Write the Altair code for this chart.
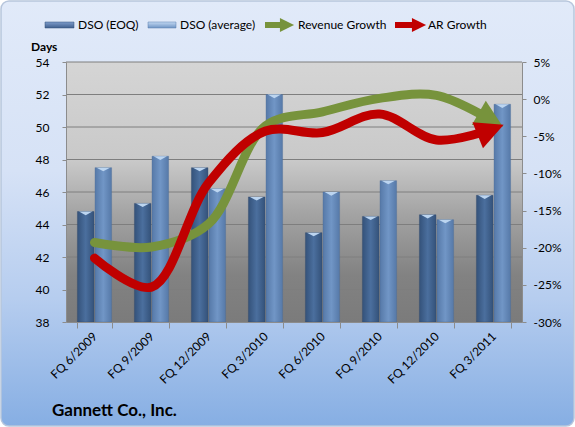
import altair as alt
import pandas as pd

# ---------------- data ----------------
quarters = ["FQ 6/2009", "FQ 9/2009", "FQ 12/2009", "FQ 3/2010",
            "FQ 6/2010", "FQ 9/2010", "FQ 12/2010", "FQ 3/2011"]
dso_eoq = [44.8, 45.3, 47.5, 45.7, 43.5, 44.5, 44.6, 45.8]
dso_avg = [47.5, 48.2, 46.2, 52.0, 46.0, 46.7, 44.3, 51.4]
revenue_growth = [-19.3, -19.9, -16.8, -3.6, -1.7, 0.1, 0.5, -3.0]
ar_growth = [-21.4, -25.3, -11.3, -4.3, -4.5, -2.0, -5.5, -4.0]

left_ticks = [38, 40, 42, 44, 46, 48, 50, 52, 54]
grid_days = [40, 42, 44, 46, 48, 50, 52, 54]
right_ticks = [-30, -25, -20, -15, -10, -5, 0, 5]
series_names = ["EOQ", "AVG"]
legend_labels = ["DSO (EOQ)", "DSO (average)", "Revenue Growth", "AR Growth"]
title_text = "Gannett Co., Inc."
days_label = "Days"

FONT = "Lato"
W, H = 456, 260

bars_df = pd.DataFrame({
    "quarter": quarters * 2,
    "series": ["EOQ"] * len(quarters) + ["AVG"] * len(quarters),
    "days": dso_eoq + dso_avg,
})
grid_df = pd.DataFrame({"days": grid_days})
rev_df = pd.DataFrame({"quarter": quarters, "pct": revenue_growth})
ar_df = pd.DataFrame({"quarter": quarters, "pct": ar_growth})
one = pd.DataFrame({"k": [0]})

# ---------------- encodings ----------------
x_enc = alt.X(
    "quarter:N", sort=quarters,
    scale=alt.Scale(paddingInner=0.4, paddingOuter=0.2),
    axis=alt.Axis(title=None, labelAngle=-45, labelAlign="right", labelBaseline="middle",
                  labelPadding=6, tickBand="extent", tickSize=6, tickColor="#8c8c8c",
                  domainColor="#8c8c8c", labelFontSize=12, zindex=1),
)
xoff_enc = alt.XOffset("series:N", scale=alt.Scale(domain=series_names, paddingInner=0.06))
y_left = alt.Y(
    "days:Q", scale=alt.Scale(domain=[38, 54], nice=False, zero=False),
    axis=alt.Axis(title=None, values=left_ticks, grid=False, orient="left", tickSize=4,
                  labelPadding=13, tickColor="#8c8c8c", domainColor="#8c8c8c",
                  labelFontSize=12, zindex=1),
)
y_right = alt.Y(
    "pct:Q", scale=alt.Scale(domain=[-30, 5], nice=False, zero=False),
    axis=alt.Axis(title=None, values=right_ticks, grid=False, orient="right", tickSize=4,
                  labelPadding=7, tickColor="#8c8c8c", domainColor="#8c8c8c",
                  labelExpr="datum.value + '%'", labelFontSize=12, zindex=1),
)

# ---------------- backgrounds ----------------
outer_bg = alt.Chart(one).mark_rect(
    cornerRadius=8, stroke="#b7c6dc", strokeWidth=1.5,
    fill=alt.Gradient(gradient="linear", x1=0, x2=0, y1=0, y2=1, stops=[
        alt.GradientStop(offset=0, color="#e1eaf9"),
        alt.GradientStop(offset=0.4, color="#d6e2f6"),
        alt.GradientStop(offset=0.7, color="#b6cdef"),
        alt.GradientStop(offset=1, color="#86aee3"),
    ]),
).encode(x=alt.value(-65), x2=alt.value(508), y=alt.value(-61), y2=alt.value(364))

plot_bg = alt.Chart(one).mark_rect(
    fill=alt.Gradient(gradient="linear", x1=0, x2=0, y1=0, y2=1, stops=[
        alt.GradientStop(offset=0, color="#d5d5d5"),
        alt.GradientStop(offset=0.38, color="#c9c9c9"),
        alt.GradientStop(offset=0.58, color="#a4a4a4"),
        alt.GradientStop(offset=0.82, color="#828282"),
        alt.GradientStop(offset=1, color="#7b7b7b"),
    ]),
).encode(x=alt.value(0), x2=alt.value(W), y=alt.value(0), y2=alt.value(H))

grid = alt.Chart(grid_df).mark_rule(color="#7e7e7e", strokeWidth=1).encode(
    y=y_left, x=alt.value(0), x2=alt.value(W))

# ---------------- bars ----------------
eoq_fill = alt.Gradient(gradient="linear", x1=0, x2=1, y1=0, y2=0, stops=[
    alt.GradientStop(offset=0, color="#34527a"),
    alt.GradientStop(offset=0.5, color="#4b6f9e"),
    alt.GradientStop(offset=1, color="#34527a"),
])
avg_fill = alt.Gradient(gradient="linear", x1=0, x2=1, y1=0, y2=0, stops=[
    alt.GradientStop(offset=0, color="#5679a8"),
    alt.GradientStop(offset=0.5, color="#7196c6"),
    alt.GradientStop(offset=1, color="#5679a8"),
])
bars_eoq = alt.Chart(bars_df).transform_filter("datum.series == 'EOQ'").mark_bar(
    fill=eoq_fill, stroke="#2e476b", strokeWidth=0.6, strokeOpacity=0.6
).encode(x=x_enc, xOffset=xoff_enc, y=y_left, y2=alt.datum(38))
bars_avg = alt.Chart(bars_df).transform_filter("datum.series == 'AVG'").mark_bar(
    fill=avg_fill, stroke="#4a6a96", strokeWidth=0.6, strokeOpacity=0.6
).encode(x=x_enc, xOffset=xoff_enc, y=y_left, y2=alt.datum(38))
bar_tops = alt.Chart(bars_df).mark_point(
    shape="M-1,0L1,0L0,0.55Z", filled=True, size=180, color="#bcd5f0", opacity=1
).encode(x=x_enc, xOffset=xoff_enc, y=y_left)

# ---------------- legend & texts ----------------
def txt(s, x, y, size=12, weight="normal", align="left"):
    return alt.Chart(one).mark_text(
        text=s, font=FONT, fontSize=size, fontWeight=weight, align=align,
        baseline="middle", color="#000000"
    ).encode(x=alt.value(x), y=alt.value(y))

LY = -37
sw_eoq = alt.Chart(one).mark_rect(
    fill=alt.Gradient(gradient="linear", x1=0, x2=0, y1=0, y2=1, stops=[
        alt.GradientStop(offset=0, color="#7d9ccb"),
        alt.GradientStop(offset=1, color="#3f5f8d")]),
    stroke="#33507a", strokeWidth=0.5,
).encode(x=alt.value(-21), x2=alt.value(8), y=alt.value(LY - 3), y2=alt.value(LY + 3))
sw_avg = alt.Chart(one).mark_rect(
    fill=alt.Gradient(gradient="linear", x1=0, x2=0, y1=0, y2=1, stops=[
        alt.GradientStop(offset=0, color="#c2d8f2"),
        alt.GradientStop(offset=1, color="#6e94c4")]),
    stroke="#5a7eae", strokeWidth=0.5,
).encode(x=alt.value(82), x2=alt.value(110), y=alt.value(LY - 3), y2=alt.value(LY + 3))
leg_g_line = alt.Chart(one).mark_rule(color="#77933c", strokeWidth=6).encode(
    x=alt.value(199), x2=alt.value(219), y=alt.value(LY))
leg_g_head = alt.Chart(one).mark_point(
    shape="M-1,-1L1,0L-1,1Z", filled=True, size=200, color="#77933c", opacity=1
).encode(x=alt.value(221), y=alt.value(LY))
leg_r_line = alt.Chart(one).mark_rule(color="#c00000", strokeWidth=6).encode(
    x=alt.value(329), x2=alt.value(351), y=alt.value(LY))
leg_r_head = alt.Chart(one).mark_point(
    shape="M-1,-1L1,0L-1,1Z", filled=True, size=200, color="#c00000", opacity=1
).encode(x=alt.value(353), y=alt.value(LY))

texts = [
    txt(legend_labels[0], 12, LY),
    txt(legend_labels[1], 114, LY),
    txt(legend_labels[2], 232, LY),
    txt(legend_labels[3], 362, LY),
    txt(days_label, -35, -15, size=12, weight="bold"),
    txt(title_text, -14, 349, size=17, weight="bold"),
]

left = alt.layer(outer_bg, plot_bg, grid, bars_eoq, bars_avg, bar_tops,
                 sw_eoq, sw_avg, leg_g_line, leg_g_head, leg_r_line, leg_r_head, *texts)

# ---------------- growth lines ----------------
last_q = quarters[-1]
rev_line = alt.Chart(rev_df).mark_line(
    color="#77933c", strokeWidth=9, interpolate="catmull-rom", strokeCap="round"
).encode(x=x_enc, y=y_right)
ar_line = alt.Chart(ar_df).mark_line(
    color="#c00000", strokeWidth=9, interpolate="catmull-rom", strokeCap="round"
).encode(x=x_enc, y=y_right)
rev_head = alt.Chart(rev_df).transform_filter(alt.datum.quarter == last_q).mark_point(
    shape="M-1,-1L1,0L-1,1Z", filled=True, size=784, color="#77933c", opacity=1,
    angle=30, xOffset=-2.6, yOffset=-1.5
).encode(x=x_enc, y=y_right)
ar_head = alt.Chart(ar_df).transform_filter(alt.datum.quarter == last_q).mark_point(
    shape="M-1,-1L1,0L-1,1Z", filled=True, size=784, color="#c00000", opacity=1,
    angle=338, xOffset=-2.8, yOffset=1.1
).encode(x=x_enc, y=y_right)

right = alt.layer(rev_line, ar_line, rev_head, ar_head)

chart = alt.layer(left, right).resolve_scale(y="independent").properties(
    width=W, height=H,
    autosize=alt.AutoSizeParams(type="none"),
    padding={"left": 66, "top": 62, "right": 53, "bottom": 105},
    background="#ffffff",
).configure_view(stroke=None).configure_axis(
    labelFont=FONT, labelColor="#000000"
)

chart.save("out.html", embed_options={"renderer": "svg", "actions": False})
